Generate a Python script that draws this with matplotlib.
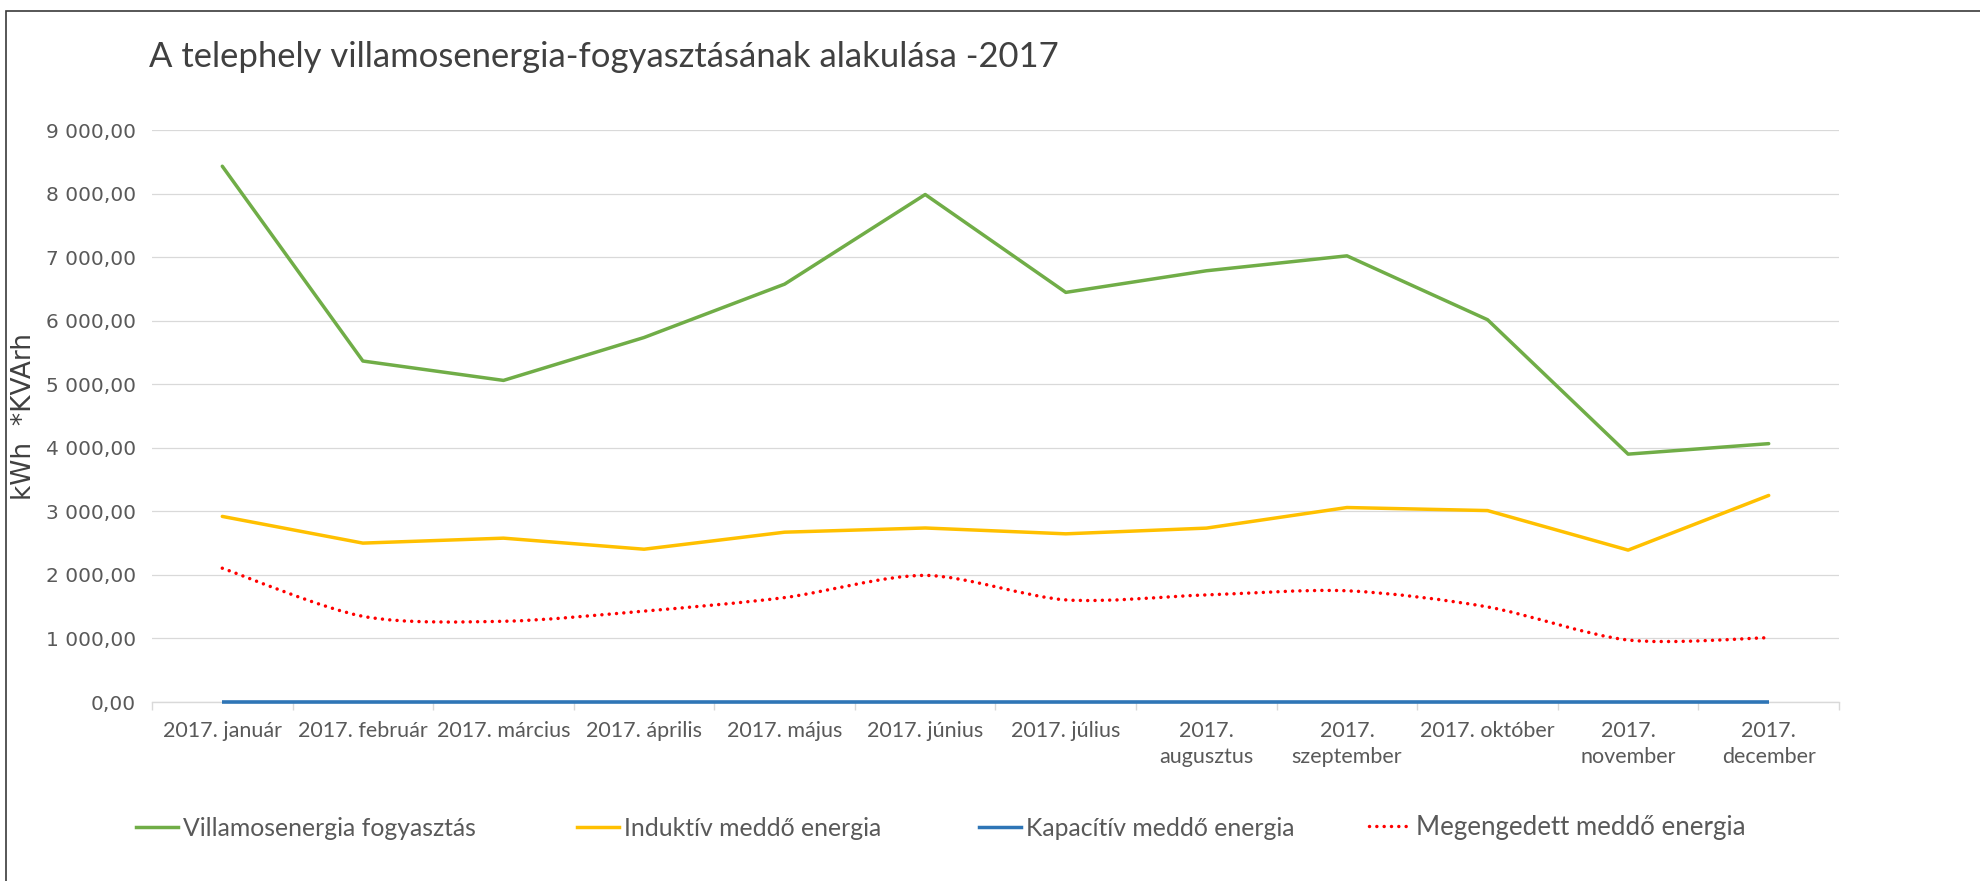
import matplotlib
matplotlib.use("Agg")
import matplotlib.pyplot as plt
from matplotlib.path import Path
from matplotlib.patches import PathPatch, Rectangle
from matplotlib.lines import Line2D
import numpy as np

# ---------------- data ----------------
categories = ["2017. január", "2017. február", "2017. március", "2017. április",
              "2017. május", "2017. június", "2017. július", "2017. augusztus",
              "2017. szeptember", "2017. október", "2017. november", "2017. december"]
tick_labels = ["2017. január", "2017. február", "2017. március", "2017. április",
               "2017. május", "2017. június", "2017. július", "2017.\naugusztus",
               "2017.\nszeptember", "2017. október", "2017.\nnovember", "2017.\ndecember"]

villamos = [8430, 5365, 5060, 5735, 6575, 7985, 6445, 6785, 7020, 6015, 3900, 4065]
induktiv = [2920, 2500, 2578, 2404, 2672, 2738, 2646, 2736, 3060, 3012, 2390, 3250]
kapacitiv = [0, 0, 0, 0, 0, 0, 0, 0, 0, 0, 0, 0]
megengedett = [2105, 1348, 1270, 1430, 1643, 1992, 1607, 1685, 1750, 1496, 975, 1012]

series_names = ["Villamosenergia fogyasztás", "Induktív meddő energia",
                "Kapacítív meddő energia", "Megengedett meddő energia"]
title = "A telephely villamosenergia-fogyasztásának alakulása -2017"
ylabel = "kWh  *KVArh"
yticks = [0, 1000, 2000, 3000, 4000, 5000, 6000, 7000, 8000, 9000]

# ---------------- style ----------------
GREEN = "#70AD47"
YELLOW = "#FFC000"
BLUE = "#2E75B6"
RED = "#FF0000"
GRID = "#D9D9D9"
TXT = "#595959"
FONT = ["Lato", "DejaVu Sans"]
WIDE = ["DejaVu Sans"]
plt.rcParams["font.family"] = FONT

W, H = 1981, 881
fig = plt.figure(figsize=(W / 100, H / 100), dpi=100)
fig.patch.set_facecolor("white")

ax = fig.add_axes([152 / W, 1 - 702 / H, (1839 - 152) / W, (702 - 130) / H])
x = np.arange(len(categories))

LW = 2.5
l_green, = ax.plot(x, villamos, color=GREEN, lw=LW, solid_joinstyle="round",
                   solid_capstyle="round", zorder=3)
l_yellow, = ax.plot(x, induktiv, color=YELLOW, lw=LW, solid_joinstyle="round",
                    solid_capstyle="round", zorder=3)
l_blue, = ax.plot(x, kapacitiv, color=BLUE, lw=2.6, solid_capstyle="butt",
                  zorder=4, clip_on=False)

# smoothed (Bezier) dotted line, as in the original chart
DOTS = (0, (0.01, 2.1))
pts = np.column_stack([x, megengedett]).astype(float)
verts = [tuple(pts[0])]
codes = [Path.MOVETO]
n = len(pts)
k = 1.0 / 7.0
for i in range(n - 1):
    p0 = pts[i - 1] if i > 0 else pts[i]
    p1 = pts[i]
    p2 = pts[i + 1]
    p3 = pts[i + 2] if i + 2 < n else pts[i + 1]
    c1 = p1 + (p2 - p0) * k
    c2 = p2 - (p3 - p1) * k
    verts += [tuple(c1), tuple(c2), tuple(p2)]
    codes += [Path.CURVE4, Path.CURVE4, Path.CURVE4]
red_patch = PathPatch(Path(verts, codes), transform=ax.transData, fill=False,
                      edgecolor=RED, lw=LW, linestyle=DOTS,
                      capstyle="round", zorder=3)
ax.add_patch(red_patch)

ax.set_xlim(-0.5, len(categories) - 0.5)
ax.set_ylim(0, 9000)

# grid / spines
for s in ["top", "right", "left"]:
    ax.spines[s].set_visible(False)
ax.spines["bottom"].set_color(GRID)
ax.spines["bottom"].set_linewidth(1.0)
ax.grid(axis="y", color=GRID, lw=0.9, zorder=0)
ax.set_axisbelow(True)

def fmt(v):
    s = "{:,.2f}".format(v)
    return s.replace(",", " ").replace(".", ",")
ax.set_yticks(yticks)
ax.set_yticklabels([fmt(v) for v in yticks], fontsize=14.5,
                   family="DejaVu Sans", color=TXT)
ax.tick_params(axis="y", length=0, pad=11.5)

ax.set_xticks(x)
ax.set_xticklabels(tick_labels, fontsize=15.5, color=TXT, linespacing=1.35,
                   va="top")
ax.set_xticks(np.arange(-0.5, len(categories), 1.0), minor=True)
ax.tick_params(axis="x", which="major", length=0, pad=14)
ax.tick_params(axis="x", which="minor", length=6, width=1.0, color=GRID)

# title and y label
fig.text(149 / W, 1 - 57 / H, title, fontsize=24.9, color="#404040",
         ha="left", va="center")
fig.text(24 / W, 1 - 416 / H, ylabel, fontsize=19, color="#404040",
         family=WIDE, rotation=90, ha="center", va="center")

# legend entries
handles = [
    Line2D([], [], color=GREEN, lw=LW),
    Line2D([], [], color=YELLOW, lw=LW),
    Line2D([], [], color=BLUE, lw=LW),
    Line2D([], [], color=RED, lw=LW, linestyle=DOTS, dash_capstyle="round"),
]
starts = [136, 577, 979, 1369]
sizes = [17.8, 17.8, 17.8, 18.6]
for h, name, sx, fs in zip(handles, series_names, starts, sizes):
    fig.legend(handles=[h], labels=[name], loc="center left",
               bbox_to_anchor=(sx / W, 1 - 828 / H), frameon=False,
               fontsize=fs, handlelength=1.7 * 17.8 / fs,
               handletextpad=0.2 * 17.8 / fs,
               borderpad=0, borderaxespad=0, labelcolor=TXT)

# outer border of the chart area
fig.add_artist(Rectangle((6.5 / W, -0.05), 1.2, 1.05 - 11 / H,
                         transform=fig.transFigure, fill=False,
                         edgecolor="#3a3a3a", lw=1.2))

fig.savefig("out.png", dpi=100, facecolor="white")
